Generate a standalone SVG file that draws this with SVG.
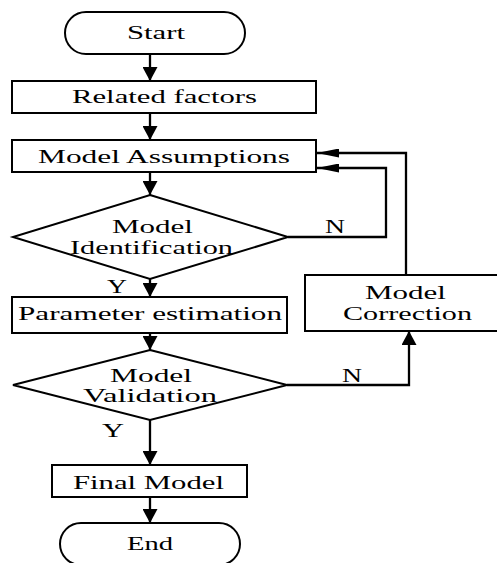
<svg xmlns="http://www.w3.org/2000/svg" width="497" height="563" viewBox="0 0 497 563">
<style>
  .shape { fill: #ffffff; stroke: #000000; stroke-width: 2; }
  .conn { fill: none; stroke: #000000; stroke-width: 2.3; }
  text { font-family: "Liberation Serif", "Times New Roman", serif; font-size: 18px; fill: #000000; }
</style>
<defs>
  <marker id="arrV" markerUnits="userSpaceOnUse" markerWidth="14" markerHeight="15" refX="14" refY="7.5" orient="auto">
    <path d="M0,0 L14,7.5 L0,15 z" fill="#000"/>
  </marker>
  <marker id="arrH" markerUnits="userSpaceOnUse" markerWidth="22" markerHeight="9" refX="22" refY="4.5" orient="auto">
    <path d="M0,0 L22,4.5 L0,9 z" fill="#000"/>
  </marker>
</defs>
<rect width="497" height="563" fill="#ffffff"/>

<g id="connectors">
  <line class="conn" x1="150" y1="54" x2="150" y2="81" marker-end="url(#arrV)"/>
  <line class="conn" x1="150" y1="113" x2="150" y2="140" marker-end="url(#arrV)"/>
  <line class="conn" x1="150" y1="172" x2="150" y2="195" marker-end="url(#arrV)"/>
  <line class="conn" x1="150" y1="279" x2="150" y2="297" marker-end="url(#arrV)"/>
  <line class="conn" x1="150" y1="333" x2="150" y2="350" marker-end="url(#arrV)"/>
  <line class="conn" x1="150" y1="420" x2="150" y2="465" marker-end="url(#arrV)"/>
  <line class="conn" x1="150" y1="497" x2="150" y2="523" marker-end="url(#arrV)"/>
  <polyline class="conn" points="288,237 386,237 386,168 317,168" marker-end="url(#arrH)"/>
  <polyline class="conn" points="406,275 406,153 317,153" marker-end="url(#arrH)"/>
  <polyline class="conn" points="287,385 409,385 409,331" marker-end="url(#arrV)"/>
  <text x="325" y="233" textLength="20" lengthAdjust="spacingAndGlyphs">N</text>
  <text x="107" y="293" textLength="20" lengthAdjust="spacingAndGlyphs">Y</text>
  <text x="342" y="382" textLength="20" lengthAdjust="spacingAndGlyphs">N</text>
  <text x="102" y="437" textLength="22" lengthAdjust="spacingAndGlyphs">Y</text>
</g>

<g id="start">
  <rect class="shape" x="65" y="12" width="180" height="42" rx="21" ry="21"/>
  <text x="127" y="39" textLength="58" lengthAdjust="spacingAndGlyphs">Start</text>
</g>
<g id="related-factors">
  <rect class="shape" x="12" y="81" width="304" height="32"/>
  <text x="72" y="103" textLength="185" lengthAdjust="spacingAndGlyphs">Related factors</text>
</g>
<g id="model-assumptions">
  <rect class="shape" x="12" y="140" width="304" height="32"/>
  <text x="38" y="163" textLength="252" lengthAdjust="spacingAndGlyphs">Model Assumptions</text>
</g>
<g id="model-identification">
  <polygon class="shape" points="150,195 288,237 150,279 13,237"/>
  <text x="112" y="233" textLength="81" lengthAdjust="spacingAndGlyphs">Model</text>
  <text x="70" y="254" textLength="163" lengthAdjust="spacingAndGlyphs">Identification</text>
</g>
<g id="parameter-estimation">
  <rect class="shape" x="12" y="297" width="275" height="36"/>
  <text x="18" y="320" textLength="264" lengthAdjust="spacingAndGlyphs">Parameter estimation</text>
</g>
<g id="model-validation">
  <polygon class="shape" points="150,350 287,385 150,420 13,385"/>
  <text x="110" y="382" textLength="82" lengthAdjust="spacingAndGlyphs">Model</text>
  <text x="83" y="402" textLength="134" lengthAdjust="spacingAndGlyphs">Validation</text>
</g>
<g id="model-correction">
  <rect class="shape" x="305" y="275" width="200" height="56"/>
  <text x="365" y="299" textLength="81" lengthAdjust="spacingAndGlyphs">Model</text>
  <text x="343" y="320" textLength="129" lengthAdjust="spacingAndGlyphs">Correction</text>
</g>
<g id="final-model">
  <rect class="shape" x="52" y="465" width="195" height="32"/>
  <text x="73" y="489" textLength="151" lengthAdjust="spacingAndGlyphs">Final Model</text>
</g>
<g id="end">
  <rect class="shape" x="60" y="523" width="180" height="42" rx="21" ry="21"/>
  <text x="127" y="550" textLength="46" lengthAdjust="spacingAndGlyphs">End</text>
</g>
</svg>
